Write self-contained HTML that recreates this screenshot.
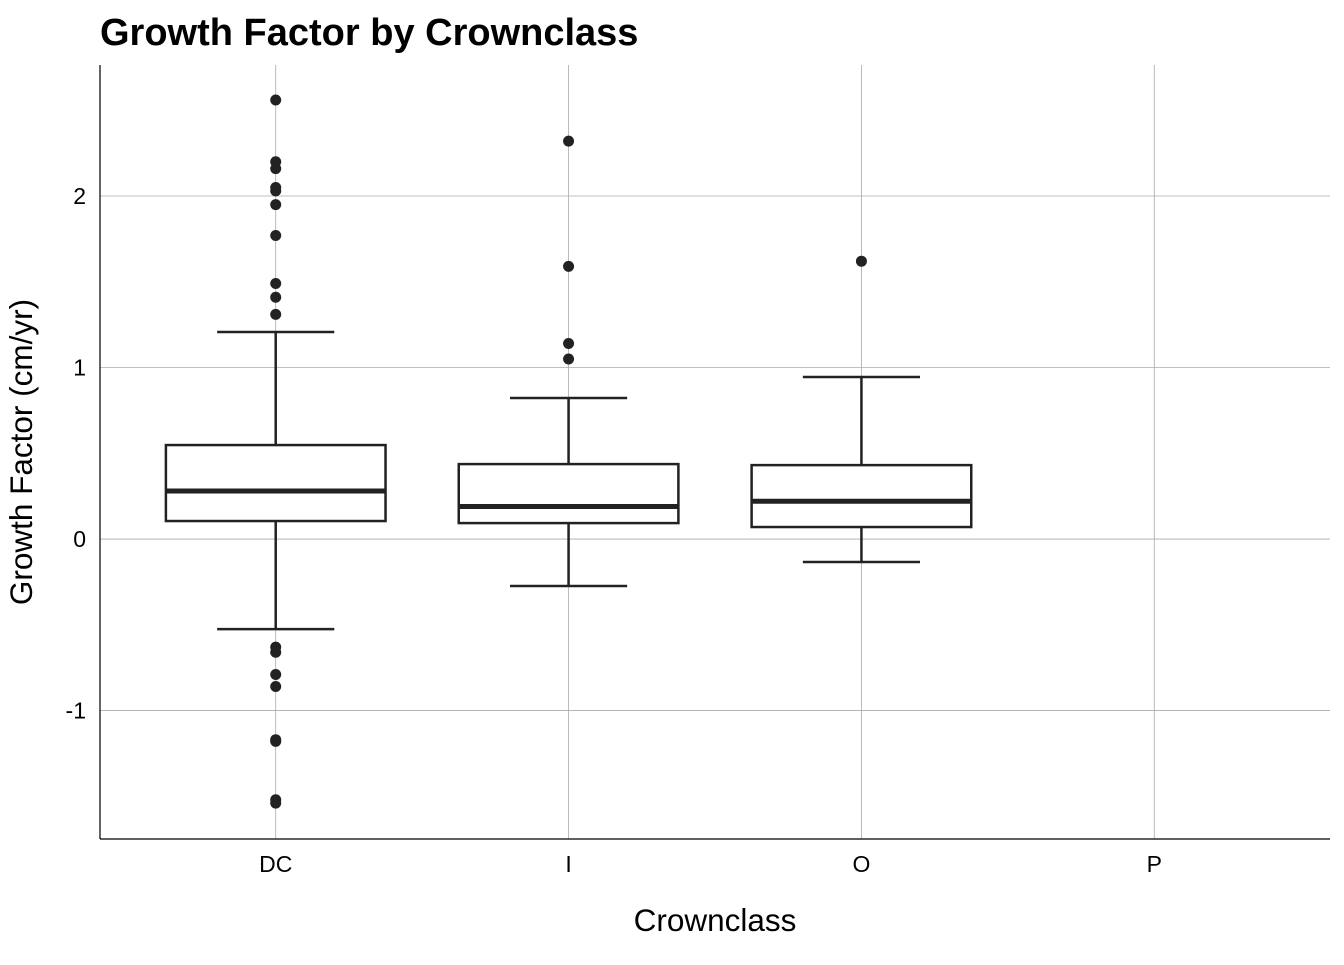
<!DOCTYPE html>
<html><head><meta charset="utf-8"><style>
body{margin:0;background:#fff;}
svg text{font-family:"Liberation Sans",Arial,sans-serif;}
</style></head><body>
<svg id="chart" width="1344" height="960" xmlns="http://www.w3.org/2000/svg">
<text x="100" y="45" font-size="38" font-weight="bold" fill="#000">Growth Factor by Crownclass</text>
<g id="grid"></g>
<g id="marks"></g>
<g id="axes"></g>
<text x="715" y="931" font-size="31.5" text-anchor="middle" fill="#000">Crownclass</text>
<text transform="translate(32,452) rotate(-90)" font-size="31.5" text-anchor="middle" fill="#000">Growth Factor (cm/yr)</text>
</svg>
<script>
const categories = ["DC","I","O","P"];
const q1 = [0.105, 0.093, 0.07, null];
const medians = [0.28, 0.19, 0.22, null];
const q3 = [0.548, 0.437, 0.431, null];
const whiskerLow = [-0.525, -0.274, -0.134, null];
const whiskerHigh = [1.207, 0.822, 0.945, null];
const outliers = [
  [2.56,2.20,2.16,2.05,2.03,1.95,1.77,1.49,1.41,1.31,-0.63,-0.66,-0.79,-0.86,-1.17,-1.18,-1.52,-1.54],
  [2.32,1.59,1.14,1.05],
  [1.62],
  []
];
const yTicks = [-1,0,1,2];

const NS="http://www.w3.org/2000/svg";
const L=100,R=1330,T=65,B=839;
const yMin=-1.749,yMax=2.764;
const y=v=>B-(v-yMin)/(yMax-yMin)*(B-T);
const unit=(R-L)/(categories.length+0.2);
const x=i=>L+unit*(i+0.6);
const bw=unit*0.75;
const cap=unit*0.2;
function mk(tag,attrs,parent){const e=document.createElementNS(NS,tag);for(const k in attrs)e.setAttribute(k,attrs[k]);document.getElementById(parent).appendChild(e);return e;}

yTicks.forEach(t=>{
  const g=mk('line',{x1:L,x2:R,y1:y(t),y2:y(t),stroke:'#aaa','stroke-width':0.8},'grid');
  
  
  const tl=mk('text',{x:L-14,y:y(t)+8,'font-size':23,'text-anchor':'end',fill:'#000'},'axes');
  tl.textContent=t;
  
  
});
categories.forEach((c,i)=>{
  const g=mk('line',{x1:x(i),x2:x(i),y1:T,y2:B,stroke:'#aaa','stroke-width':0.8},'grid');
  
  
  const tl=mk('text',{x:x(i),y:B+33,'font-size':23,'text-anchor':'middle',fill:'#000'},'axes');
  tl.textContent=c;
  
  
  if(q1[i]===null) return;
  const s={stroke:'#222','stroke-width':2.5,fill:'none'};
  const w1=mk('line',Object.assign({x1:x(i),x2:x(i),y1:y(q3[i]),y2:y(whiskerHigh[i])},s),'marks');
  
  
  const w2=mk('line',Object.assign({x1:x(i),x2:x(i),y1:y(q1[i]),y2:y(whiskerLow[i])},s),'marks');
  
  
  const c1=mk('line',Object.assign({x1:x(i)-cap,x2:x(i)+cap,y1:y(whiskerHigh[i]),y2:y(whiskerHigh[i])},s),'marks');
  
  
  const c2=mk('line',Object.assign({x1:x(i)-cap,x2:x(i)+cap,y1:y(whiskerLow[i]),y2:y(whiskerLow[i])},s),'marks');
  
  
  const b=mk('rect',{x:x(i)-bw/2,y:y(q3[i]),width:bw,height:y(q1[i])-y(q3[i]),fill:'#fff',stroke:'#222','stroke-width':2.5},'marks');
  
  
  const m=mk('line',{x1:x(i)-bw/2,x2:x(i)+bw/2,y1:y(medians[i]),y2:y(medians[i]),stroke:'#222','stroke-width':5},'marks');
  
  
  outliers[i].forEach(v=>{
    const p=mk('circle',{cx:x(i),cy:y(v),r:5.5,fill:'#222'},'marks');
    
    
  });
});
const ax=mk('line',{x1:L,x2:L,y1:T,y2:B,stroke:'#000','stroke-width':1.2},'axes');


const bx=mk('line',{x1:L,x2:R,y1:B,y2:B,stroke:'#000','stroke-width':1.2},'axes');


</script>
</body></html>
